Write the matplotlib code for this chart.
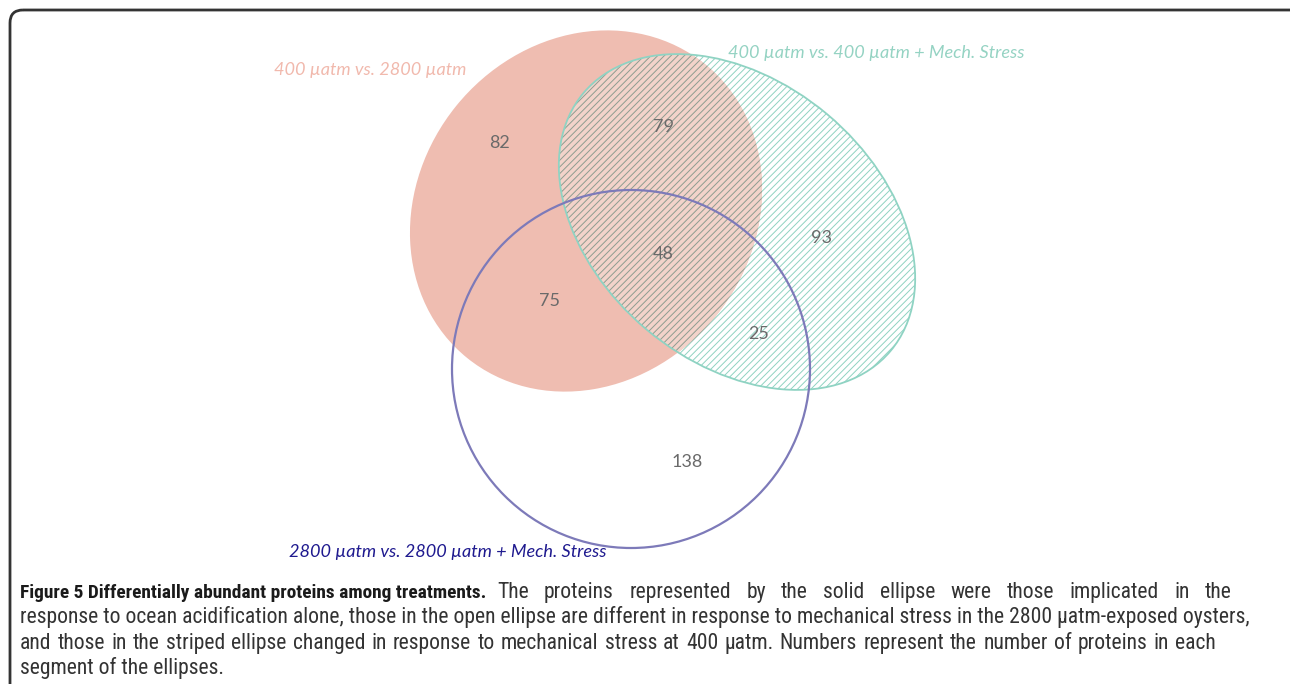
import matplotlib
matplotlib.use("Agg")
import matplotlib.pyplot as plt
from matplotlib.patches import Ellipse, Circle, FancyBboxPatch
from matplotlib import font_manager as fm

# ---- data ----
set_labels = ["400 µatm vs. 2800 µatm",
              "400 µatm vs. 400 µatm + Mech. Stress",
              "2800 µatm vs. 2800 µatm + Mech. Stress"]
region_names = ["A only", "A∩B", "A∩B∩C", "B only", "A∩C", "B∩C", "C only"]
region_counts = [82, 79, 48, 93, 75, 25, 138]

caption_bold = "Figure 5 Differentially abundant proteins among treatments."
caption_lines = [
    "The proteins represented by the solid ellipse were those implicated in the",
    "response to ocean acidification alone, those in the open ellipse are different in response to mechanical stress in the 2800 µatm-exposed oysters,",
    "and those in the striped ellipse changed in response to mechanical stress at 400 µatm. Numbers represent the number of proteins in each",
    "segment of the ellipses.",
]

# ---- layout (pixel space) ----
W, H = 1290, 684
fig = plt.figure(figsize=(W / 100, H / 100), dpi=100)
ax = fig.add_axes([0, 0, 1, 1])
ax.set_xlim(0, W)
ax.set_ylim(H, 0)
ax.axis("off")

plt.rcParams["hatch.linewidth"] = 0.7

red_fill = "#efbdb1"
teal = "#8fd3c3"
teal_hatch = "#8fd2c1"
grey_hatch = "#8e9c90"
purple = "#7d7ab9"
HATCH = "/////"

# frame with rounded corner
frame = FancyBboxPatch((10, 10), W + 40, H + 40,
                       boxstyle="round,pad=0,rounding_size=13",
                       fill=False, edgecolor="#333333", linewidth=2.0,
                       transform=ax.transData, clip_on=False)
ax.add_patch(frame)

# geometry
red_geo = dict(xy=(586, 211), width=378, height=334, angle=-51)
teal_geo = dict(xy=(737, 222), width=401, height=281, angle=40)

red = Ellipse(**red_geo, facecolor=red_fill, edgecolor="none", zorder=1)
ax.add_patch(red)

teal_h = Ellipse(**teal_geo, facecolor="none", edgecolor=teal_hatch,
                 hatch=HATCH, linewidth=0, zorder=2)
ax.add_patch(teal_h)

# overlap region: lighter pink with greyer hatch
red_clip = Ellipse(**red_geo, transform=ax.transData)
ov_fill = Ellipse(**teal_geo, facecolor="#f3d3ca", edgecolor="none", zorder=2.5)
ax.add_patch(ov_fill)
ov_fill.set_clip_path(red_clip)
red_clip2 = Ellipse(**red_geo, transform=ax.transData)
ov_h = Ellipse(**teal_geo, facecolor="none", edgecolor=grey_hatch,
               hatch=HATCH, linewidth=0, zorder=2.6)
ax.add_patch(ov_h)
ov_h.set_clip_path(red_clip2)

teal_edge = Ellipse(**teal_geo, fill=False, edgecolor=teal, linewidth=1.3, zorder=3)
ax.add_patch(teal_edge)

circ = Circle((631, 369), 179, fill=False, edgecolor=purple, linewidth=1.6, zorder=4)
ax.add_patch(circ)

# region numbers
num_pos = [(499, 143), (664, 127), (663, 254), (821, 238), (549, 301), (759, 334), (687, 462)]
for (x, y), n in zip(num_pos, region_counts):
    ax.text(x, y, str(n), ha="center", va="center", fontsize=13,
            color="#6a6a6a", family="Lato", zorder=5)

# set labels
lab_pos = [(274, 70), (728, 53), (289, 552)]
lab_col = ["#f1b9ad", "#95d3c3", "#1f1a8f"]
for (x, y), t, c in zip(lab_pos, set_labels, lab_col):
    ax.text(x, y, t, ha="left", va="center", fontsize=13.1, style="italic",
            color=c, family="Lato", zorder=5)

# caption
fig.canvas.draw()
r = fig.canvas.get_renderer()
avail = {f.name for f in fm.fontManager.ttflist}
cap_font = "Lato"
for cand in ["Liberation Sans Narrow", "Roboto Condensed", "Open Sans Condensed", "Lato"]:
    if cand in avail:
        cap_font = cand
        break

def fit(t, target_w, base=13.0):
    t.set_fontsize(base)
    w = t.get_window_extent(r).width
    s = base * target_w / w
    t.set_fontsize(s)
    return s

def justify(line, x0, x1, y, size):
    words = line.split(" ")
    objs = [ax.text(0, y, w, ha="left", va="baseline", color="#333333",
                    family=cap_font, fontsize=size) for w in words]
    widths = [o.get_window_extent(r).width for o in objs]
    gap = (x1 - x0 - sum(widths)) / max(len(words) - 1, 1)
    x = x0
    for o, w in zip(objs, widths):
        o.set_x(x)
        x += w + gap

cap_base = [598, 623, 649, 674]
tb = ax.text(20, cap_base[0], caption_bold, ha="left", va="baseline",
             fontweight="bold", color="#1a1a1a", family=cap_font)
fit(tb, 465)
# common size for the regular text, set by the longest line
t2 = ax.text(20, cap_base[1], caption_lines[1], ha="left", va="baseline",
             color="#333333", family=cap_font)
size = fit(t2, 1230)
justify(caption_lines[0], 497, 1232, cap_base[0], size)
justify(caption_lines[2], 20, 1216, cap_base[2], size)
ax.text(20, cap_base[3], caption_lines[3], ha="left", va="baseline",
        color="#333333", family=cap_font, fontsize=size)

fig.savefig("out.png", dpi=100)
